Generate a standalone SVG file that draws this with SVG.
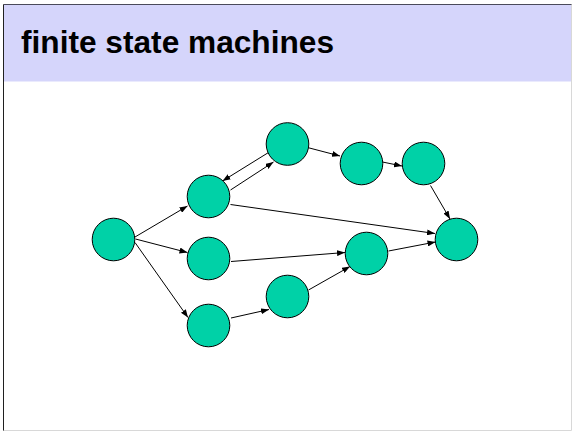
<svg xmlns="http://www.w3.org/2000/svg" width="572" height="431" viewBox="0 0 572 431">
  <style>
    .state { fill: #00D1A7; stroke: #000000; stroke-width: 1; }
    .edge { stroke: #000000; stroke-width: 1; fill: none; marker-end: url(#arrow); }
    .title { font-family: "Liberation Sans", Arial, sans-serif; font-weight: bold; font-size: 32px; fill: #000000; }
  </style>
  <defs>
    <marker id="arrow" markerUnits="userSpaceOnUse" markerWidth="8" markerHeight="6" refX="8" refY="3" orient="auto">
      <path d="M0,0 L8,3 L0,6 z" fill="#000000"/>
    </marker>
  </defs>

  <!-- slide background and frame -->
  <rect x="0" y="0" width="572" height="431" fill="#ffffff"/>
  <rect x="3.5" y="4.5" width="568" height="77" fill="#D5D5FB"/>
  <line x1="3.5" y1="4.5" x2="572" y2="4.5" stroke="#4a4a5a" stroke-width="1"/>
  <line x1="3.5" y1="4.5" x2="3.5" y2="431" stroke="#202020" stroke-width="1"/>
  <line x1="571.5" y1="4.5" x2="571.5" y2="430.5" stroke="#d8d8d8" stroke-width="1"/>
  <line x1="3.5" y1="430.5" x2="571.5" y2="430.5" stroke="#d8d8d8" stroke-width="1"/>

  <g id="title">
    <text class="title" x="21" y="52.5" textLength="313" lengthAdjust="spacingAndGlyphs">finite state machines</text>
  </g>

  <!-- transitions -->
  <g id="connectors">
    <line class="edge" x1="135" y1="237" x2="187.5" y2="206"/>
    <line class="edge" x1="135.5" y1="239" x2="187.5" y2="252.5"/>
    <line class="edge" x1="135" y1="242.5" x2="188" y2="317.5"/>
    <line class="edge" x1="268.5" y1="152.5" x2="222.5" y2="181"/>
    <line class="edge" x1="230.5" y1="190" x2="273.5" y2="162"/>
    <line class="edge" x1="230.5" y1="204.5" x2="435" y2="233.5"/>
    <line class="edge" x1="231" y1="261.5" x2="345" y2="252.5"/>
    <line class="edge" x1="231" y1="318" x2="269" y2="309.5"/>
    <line class="edge" x1="308.5" y1="290" x2="350" y2="266.5"/>
    <line class="edge" x1="388.5" y1="251" x2="435.5" y2="242"/>
    <line class="edge" x1="307.5" y1="147.5" x2="340" y2="156"/>
    <line class="edge" x1="382.5" y1="162" x2="402" y2="166"/>
    <line class="edge" x1="430.5" y1="185.5" x2="450" y2="219"/>
  </g>

  <!-- states -->
  <g id="s0"><circle class="state" cx="113.5" cy="239.5" r="21.3"/></g>
  <g id="s1"><circle class="state" cx="208.5" cy="196.5" r="21.3"/></g>
  <g id="s2"><circle class="state" cx="208.5" cy="258.5" r="21.3"/></g>
  <g id="s3"><circle class="state" cx="208.5" cy="325.5" r="21.3"/></g>
  <g id="s4"><circle class="state" cx="287.5" cy="144" r="21.3"/></g>
  <g id="s5"><circle class="state" cx="287.5" cy="296.5" r="21.3"/></g>
  <g id="s6"><circle class="state" cx="361.5" cy="163.5" r="21.3"/></g>
  <g id="s7"><circle class="state" cx="423.5" cy="163.5" r="21.3"/></g>
  <g id="s8"><circle class="state" cx="366.5" cy="253.5" r="21.3"/></g>
  <g id="s9"><circle class="state" cx="456.5" cy="239.5" r="21.3"/></g>
</svg>
